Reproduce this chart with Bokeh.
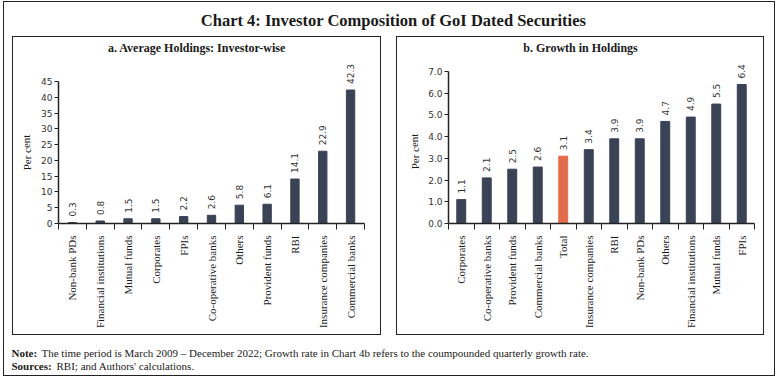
from bokeh.plotting import figure
from bokeh.layouts import column, row
from bokeh.models import (ColumnDataSource, LabelSet, Range1d, FixedTicker, Spacer,
                          NumeralTickFormatter)
from bokeh.core.properties import value
from bokeh.embed import file_html
from bokeh.resources import INLINE

# ---------------- data ----------------
left_cats = ["Non-bank PDs", "Financial institutions", "Mutual funds", "Corporates", "FPIs",
             "Co-operative banks", "Others", "Provident funds", "RBI",
             "Insurance companies", "Commercial banks"]
left_vals = [0.3, 0.8, 1.5, 1.5, 2.2, 2.6, 5.8, 6.1, 14.1, 22.9, 42.3]
left_yticks = [0, 5, 10, 15, 20, 25, 30, 35, 40, 45]

right_cats = ["Corporates", "Co-operative banks", "Provident funds", "Commercial banks", "Total",
              "Insurance companies", "RBI", "Non-bank PDs", "Others",
              "Financial institutions", "Mutual funds", "FPIs"]
right_vals = [1.1, 2.1, 2.5, 2.6, 3.1, 3.4, 3.9, 3.9, 4.7, 4.9, 5.5, 6.4]
right_yticks = [0, 1, 2, 3, 4, 5, 6, 7]
highlight = "Total"

title_text = "Chart 4: Investor Composition of GoI Dated Securities"
left_title = "a. Average Holdings: Investor-wise"
right_title = "b. Growth in Holdings"
y_label = "Per cent"
note_bold = "Note:"
note_text = "The time period is March 2009 \u2013 December 2022; Growth rate in Chart 4b refers to the coumpounded quarterly growth rate."
src_bold = "Sources:"
src_text = "RBI; and Authors' calculations."

BAR = "#3a4255"
ORANGE = "#e06c4b"
SERIF = "Liberation Serif"
SANS = "DejaVu Sans"
INK = "#1a1a1a"
BORDER = "1px solid #222222"


def blank(w, h, yr=None):
    f = figure(width=w, height=h, output_backend="svg", toolbar_location=None,
               x_range=Range1d(0, w), y_range=Range1d(0, yr if yr else h), min_border=0)
    f.axis.visible = False
    f.grid.visible = False
    f.outline_line_color = None
    return f


def chart(cats, vals, yticks, bar_w, w, h, mb_left, mb_right, top_gap, mb_bottom):
    n = len(cats)
    xs = list(range(1, n + 1))
    colors = [ORANGE if c == highlight else BAR for c in cats]
    src = ColumnDataSource(dict(x=xs, top=vals, color=colors,
                                lbl=["{:.1f}".format(v) for v in vals]))
    frame_h = h - mb_bottom
    y_end = yticks[-1] * frame_h / (frame_h - top_gap)
    p = figure(width=w, height=h, output_backend="svg", toolbar_location=None,
               x_range=Range1d(0.5, n + 0.5), y_range=Range1d(yticks[0], y_end),
               min_border_left=mb_left, min_border_right=mb_right,
               min_border_top=0, min_border_bottom=mb_bottom)
    p.outline_line_color = None
    p.xgrid.visible = False
    p.ygrid.visible = False
    p.vbar(x="x", top="top", width=bar_w, color="color", source=src)
    labels = LabelSet(x="x", y="top", text="lbl", source=src, angle=1.5708,
                      y_offset=6, text_align="left", text_baseline="middle",
                      text_font=value(SANS), text_font_size="9px", text_color="#333333")
    p.add_layout(labels)

    p.xaxis.ticker = FixedTicker(ticks=xs, minor_ticks=[x + 0.5 for x in range(0, n + 1)])
    p.xaxis.major_label_overrides = {x: c for x, c in zip(xs, cats)}
    p.xaxis.major_tick_line_color = None
    p.xaxis.minor_tick_in = 0
    p.xaxis.minor_tick_out = 6
    p.xaxis.minor_tick_line_color = "#222222"
    p.xaxis.axis_line_color = "#222222"
    p.xaxis.axis_line_width = 1.5
    p.xaxis.major_label_orientation = 1.5708
    p.xaxis.major_label_text_font = SERIF
    p.xaxis.major_label_text_font_size = "11px"
    p.xaxis.major_label_text_color = INK
    p.xaxis.major_label_standoff = 6

    p.yaxis.ticker = FixedTicker(ticks=yticks)
    p.yaxis.bounds = (yticks[0], yticks[-1])
    p.yaxis.minor_tick_line_color = None
    p.yaxis.major_tick_in = 0
    p.yaxis.major_tick_out = 4
    p.yaxis.axis_line_color = "#222222"
    p.yaxis.axis_line_width = 1.5
    p.yaxis.major_tick_line_color = "#222222"
    p.yaxis.major_label_text_font = SANS
    p.yaxis.major_label_text_font_size = "9px"
    p.yaxis.major_label_text_color = "#333333"
    p.yaxis.major_label_standoff = 2
    return p


def panel(cats, vals, yticks, title, bar_w, inner_w, inner_h, title_h, lab_w, lab_x, lab_y,
          mb_left, mb_right, top_gap, mb_bottom):
    ch_h = inner_h - title_h
    frame_h = ch_h - mb_bottom
    t = blank(inner_w, title_h)
    t.text(x=[inner_w / 2], y=[title_h / 2], text=[title], text_align="center",
           text_baseline="middle", text_font=value(SERIF), text_font_size="12px",
           text_font_style="bold", text_color=INK)
    # the row layout aligns this strip's frame with the chart frame (height frame_h)
    lab = blank(lab_w, ch_h, yr=frame_h)
    lab.text(x=[lab_x], y=[frame_h - lab_y], text=[y_label], angle=1.5708, text_align="center",
             text_baseline="middle", text_font=value(SERIF), text_font_size="11px",
             text_color=INK)
    c = chart(cats, vals, yticks, bar_w, inner_w - lab_w, ch_h, mb_left, mb_right,
              top_gap, mb_bottom)
    return column(t, row(lab, c), styles={"border": BORDER}), c


left, lc = panel(left_cats, left_vals, left_yticks, left_title, 0.3,
                 367, 297, 21, 20, 13, 94, 25, 16, 23, 111)
right, rc = panel(right_cats, right_vals, right_yticks, right_title, 0.35,
                  366, 297, 21, 24, 17, 93, 27, 9, 13, 111)
rc.yaxis.formatter = NumeralTickFormatter(format="0.0")

W = 770
head = blank(W, 34)
head.text(x=[W / 2 + 4], y=[16], text=[title_text], text_align="center", text_baseline="middle",
          text_font=value(SERIF), text_font_size="16.5px", text_font_style="bold",
          text_color=INK)

foot = blank(W, 40)
FS = "11px"
foot.text(x=[7], y=[23], text=[note_bold], text_baseline="middle",
          text_font=value(SERIF), text_font_size=FS, text_font_style="bold", text_color=INK)
foot.text(x=[37], y=[23], text=[note_text], text_baseline="middle",
          text_font=value(SERIF), text_font_size=FS, text_color=INK)
foot.text(x=[7], y=[10], text=[src_bold], text_baseline="middle",
          text_font=value(SERIF), text_font_size=FS, text_font_style="bold", text_color=INK)
foot.text(x=[52], y=[10], text=[src_text], text_baseline="middle",
          text_font=value(SERIF), text_font_size=FS, text_color=INK)

mid = row(Spacer(width=8, height=299), left, Spacer(width=15, height=299), right,
          Spacer(width=10, height=299))
page = column(head, mid, foot,
              styles={"border": BORDER, "margin-left": "3px", "margin-top": "1px"})

open("out.html", "w").write(file_html(page, INLINE))
